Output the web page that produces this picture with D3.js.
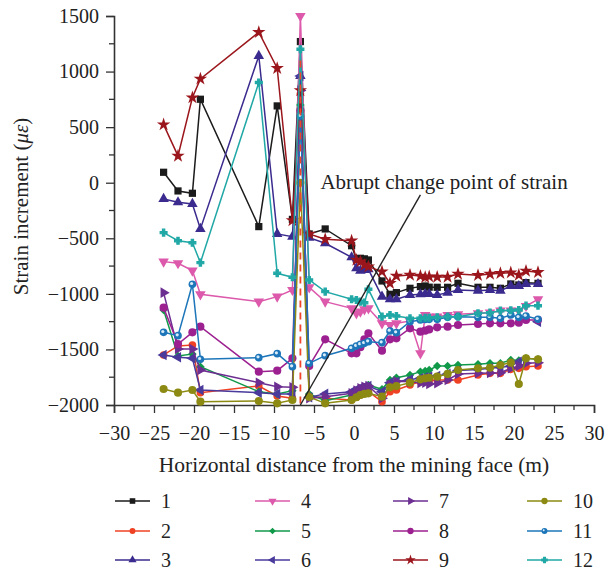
<!DOCTYPE html>
<html>
<head>
<meta charset="utf-8">
<script src="https://cdn.jsdelivr.net/npm/d3@7"></script>
<style>
  body { margin: 0; background: #fff; }
  svg { font-family: "Liberation Serif", "DejaVu Serif", serif; }
</style>
</head>
<body>
<div id="chart"></div>
<script>
// distance from the mining face (m), shared by all gauges
const xs = [-23.8, -22, -20.2, -19.2, -11.9, -9.6, -7.7, -6.7, -5.6, -3.6,
  -0.3, 0.3, 0.8, 1.3, 1.8, 3.5, 4.5, 5.3, 7.0, 8.3, 8.9, 9.4, 10.4, 11.7,
  13.0, 15.5, 17.0, 18.3, 19.6, 20.6, 21.5, 23.0];

const labels = ["1", "2", "3", "4", "5", "6", "7", "8", "9", "10", "11", "12"];

const s1 = [94, -74, -95, 751, -395, 691, -330, 1270, -461, -416, -567, -689, -680, -685, -695, -884, -1004, -989, -950, -935, -929, -940, -941, -941, -905, -941, -941, -950, -911, -920, -899, -905];
const s2 = [-1550, -1469, -1460, -1889, -1829, -1919, -1940, 800, -1920, -1940, -1955, -1930, -1910, -1890, -1880, -1970, -1880, -1865, -1820, -1790, -1785, -1780, -1775, -1775, -1775, -1730, -1715, -1715, -1679, -1670, -1655, -1649];
const s3 = [-146, -176, -191, -416, 1141, -461, -485, 960, -494, -545, -671, -770, -791, -785, -779, -1025, -1049, -1049, -1010, -1004, -1001, -1001, -1010, -989, -965, -971, -965, -971, -929, -929, -911, -911];
const s4 = [-710, -725, -791, -1004, -1070, -1025, -965, 1500, -941, -1070, -1130, -1175, -1160, -1139, -1130, -1265, -1280, -1265, -1244, -1535, -1190, -1205, -1205, -1190, -1184, -1175, -1169, -1151, -1150, -1152, -1109, -1049];
const s5 = [-1145, -1559, -1541, -1655, -1880, -1901, -1871, 700, -1900, -1961, -1910, -1880, -1860, -1840, -1820, -1859, -1775, -1754, -1730, -1700, -1695, -1685, -1649, -1650, -1640, -1634, -1625, -1625, -1595, -1600, -1580, -1589];
const s6 = [-1550, -1571, -1580, -1865, -1889, -1901, -1901, 960, -1930, -1900, -1880, -1860, -1845, -1835, -1830, -1880, -1800, -1790, -1770, -1760, -1750, -1745, -1740, -1720, -1690, -1680, -1670, -1660, -1650, -1610, null, -1250];
const s7 = [-989, -1496, -1496, -1685, -1799, -1835, -1841, 830, -1940, -1925, -1895, -1870, -1850, -1835, -1829, -1940, -1820, -1787, -1790, -1802, -1800, -1810, -1805, -1775, -1721, -1715, -1712, -1709, -1670, -1650, -1625, -1619];
const s8 = [-1124, -1451, -1346, -1295, -1700, -1691, -1580, 650, -1649, -1409, -1535, -1535, -1480, -1409, -1355, -1511, -1409, -1400, -1310, -1340, -1331, -1320, -1301, -1295, -1280, -1271, -1265, -1265, -1265, -1259, -1235, -1235];
const s9 = [523, 241, 766, 934, 1354, 1030, -340, 830, -460, -509, -522, -695, -710, -740, -755, -800, -905, -839, -830, -839, -851, -845, -848, -848, -821, -833, -821, -815, -809, -830, -794, -806];
const s10 = [-1856, -1889, -1865, -1970, -1964, -1985, -1955, 0, -1928, -1985, -1955, -1930, -1910, -1900, -1895, -1925, -1841, -1830, -1799, -1769, -1760, -1755, -1745, -1720, -1685, -1670, -1665, -1640, -1619, -1811, -1580, -1589];
const s11 = [-1346, -1376, -914, -1589, -1574, -1538, -1655, 600, -1625, -1556, -1490, -1470, -1455, -1445, -1430, -1439, -1334, -1349, -1250, -1235, -1230, -1229, -1229, -1211, -1205, -1211, -1211, -1220, -1190, -1211, -1199, -1229];
const s12 = [-449, -522, -540, -719, 901, -815, -851, 1200, -875, -980, -1049, -1055, -1070, -1079, -959, -1205, -1190, -1199, -1220, -1220, -1215, -1215, -1211, -1205, -1205, -1175, -1169, -1151, -1148, -1145, -1106, -1106];

const seriesValues = [s1, s2, s3, s4, s5, s6, s7, s8, s9, s10, s11, s12];

const colors = ["#1b1b1b", "#ef4123", "#3b2b8e", "#dc59ab", "#11994a", "#4a3a9c",
  "#6d2e92", "#9c2090", "#9b161c", "#8c8a12", "#1d76b9", "#20a8a6"];

// symbol type + rotation per gauge
const markers = [
  {t: d3.symbolSquare, r: 0, s: 52},
  {t: d3.symbolCircle, r: 0, s: 46},
  {t: d3.symbolTriangle, r: 0, s: 48},
  {t: d3.symbolTriangle, r: 180, s: 48},
  {t: d3.symbolSquare, r: 45, s: 36},
  {t: d3.symbolTriangle, r: -90, s: 48},
  {t: d3.symbolTriangle, r: 90, s: 48},
  {t: d3.symbolCircle, r: 0, s: 52},
  {t: d3.symbolStar, r: 0, s: 56},
  {t: d3.symbolCircle, r: 0, s: 52},
  {t: d3.symbolCircle, r: 0, s: 46},
  {t: d3.symbolCross, r: 0, s: 26}
];

const yMajor = [-2000, -1500, -1000, -500, 0, 500, 1000, 1500];
const yMinor = [-1750, -1250, -750, -250, 250, 750, 1250];
const xMajor = [-30, -25, -20, -15, -10, -5, 0, 5, 10, 15, 20, 25, 30];
const xMinor = [-27.5, -22.5, -17.5, -12.5, -7.5, -2.5, 2.5, 7.5, 12.5, 17.5, 22.5, 27.5];

// abrupt change marker
const faultX = -6.7;
const faultTop = 1100;
const noteText = "Abrupt change point of strain";
const notePos = {x: -4.2, y: -60};
const noteLine = [[8.3, -110], [-6.7, -2000]];

const width = 614, height = 571;
const x = d3.scaleLinear().domain([-30, 30]).range([114, 594]);
const y = d3.scaleLinear().domain([-2000, 1500]).range([405, 16]);
const fmt = d3.format("d");

const svg = d3.select("#chart").append("svg")
  .attr("width", width)
  .attr("height", height);

const axisColor = "#333";

// y axis
const gy = svg.append("g")
  .attr("transform", `translate(${x(-30)},0)`)
  .call(d3.axisLeft(y).tickValues(yMajor).tickFormat(fmt).tickSize(8).tickPadding(7));
gy.append("g").selectAll("line").data(yMinor).join("line")
  .attr("x1", -5).attr("x2", 0)
  .attr("y1", d => y(d)).attr("y2", d => y(d));

// x axis
const gx = svg.append("g")
  .attr("transform", `translate(0,${y(-2000)})`)
  .call(d3.axisBottom(x).tickValues(xMajor).tickFormat(fmt).tickSize(8).tickPadding(13));
gx.append("g").selectAll("line").data(xMinor).join("line")
  .attr("y1", 0).attr("y2", 5)
  .attr("x1", d => x(d)).attr("x2", d => x(d));

[gx, gy].forEach(g => {
  g.select(".domain").attr("stroke", axisColor).attr("stroke-width", 1.6);
  g.selectAll("line").attr("stroke", axisColor).attr("stroke-width", 1.3);
  g.selectAll("text").attr("fill", "#222")
    .style("font-family", "Liberation Serif, serif").style("font-size", "20px");
});

svg.append("text")
  .attr("x", (x(-30) + x(30)) / 2)
  .attr("y", 472)
  .attr("text-anchor", "middle")
  .attr("fill", "#222")
  .style("font-size", "21.5px")
  .text("Horizontal distance from the mining face (m)");

const yl = svg.append("text")
  .attr("transform", `translate(28,${(y(-2000) + y(1500)) / 2 - 4}) rotate(-90)`)
  .attr("text-anchor", "middle")
  .attr("fill", "#222")
  .style("font-size", "21px");
yl.append("tspan").text("Strain increment (");
yl.append("tspan").attr("font-style", "italic").text("με");
yl.append("tspan").text(")");

// series
const line = d3.line()
  .defined(d => d[1] !== null)
  .x(d => x(d[0]))
  .y(d => y(d[1]));

function drawMarker(sel, i, scale) {
  const m = markers[i];
  sel.append("path")
    .attr("d", d3.symbol(m.t, m.s * scale)())
    .attr("transform", d => `translate(${d[0]},${d[1]}) rotate(${m.r})`)
    .attr("fill", colors[i])
    .attr("stroke", i === 11 ? colors[i] : "none")
    .attr("stroke-width", 1.2);
  if (i === 10) {
    sel.append("circle")
      .attr("cx", d => d[0] - 0.8).attr("cy", d => d[1] - 0.8)
      .attr("r", 1.6 * scale).attr("fill", "#d8ecf8");
  }
}

seriesValues.forEach((vals, i) => {
  const pts = xs.map((xv, j) => [xv, vals[j]]);
  svg.append("path")
    .attr("fill", "none")
    .attr("stroke", colors[i])
    .attr("stroke-width", 1.5)
    .attr("d", line(pts));
  const g = svg.append("g").selectAll("g")
    .data(pts.filter(d => d[1] !== null).map(d => [x(d[0]), y(d[1])]))
    .join("g");
  drawMarker(g, i, 1);
});

// dashed line at the abrupt change
svg.append("line")
  .attr("x1", x(faultX)).attr("x2", x(faultX))
  .attr("y1", y(faultTop)).attr("y2", y(-2000))
  .attr("stroke", "#f0452a")
  .attr("stroke-width", 1.8)
  .attr("stroke-dasharray", "7,5");

svg.append("line")
  .attr("x1", x(noteLine[0][0])).attr("y1", y(noteLine[0][1]))
  .attr("x2", x(noteLine[1][0])).attr("y2", y(noteLine[1][1]))
  .attr("stroke", "#222")
  .attr("stroke-width", 1.4);

svg.append("text")
  .attr("x", x(notePos.x))
  .attr("y", y(notePos.y))
  .attr("fill", "#222")
  .style("font-size", "21px")
  .text(noteText);

// legend
const legX = [115, 255, 393, 527];
const legY = [501, 531, 560];
labels.forEach((lab, i) => {
  const cx = legX[Math.floor(i / 3)];
  const cy = legY[i % 3];
  const g = svg.append("g");
  g.append("line")
    .attr("x1", cx).attr("x2", cx + 35)
    .attr("y1", cy).attr("y2", cy)
    .attr("stroke", colors[i]).attr("stroke-width", 1.6);
  const mg = g.append("g").selectAll("g").data([[cx + 17.5, cy]]).join("g");
  drawMarker(mg, i, 0.6);
  g.append("text")
    .attr("x", cx + 46)
    .attr("y", cy + 6.5)
    .attr("fill", "#222")
    .style("font-size", "20px")
    .text(lab);
});
</script>
</body>
</html>
